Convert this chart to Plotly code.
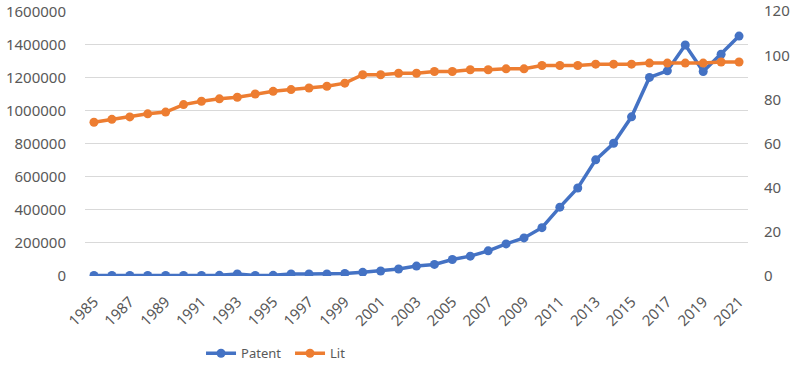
import plotly.graph_objects as go

years = list(range(1985, 2022))
patent = [3000, 3000, 3000, 3000, 3000, 3000, 3000, 4000, 12000, 3000,
          4000, 12000, 12000, 12000, 15000, 22000, 30000, 42000, 60000, 70000,
          100000, 120000, 152000, 194000, 230000, 292000, 416000, 532000, 702000, 802000,
          962000, 1200000, 1240000, 1396000, 1236000, 1340000, 1450000]
lit = [69.7, 71.0, 72.1, 73.5, 74.3, 77.7, 79.2, 80.3, 81.0, 82.5,
       83.7, 84.5, 85.2, 86.0, 87.4, 91.2, 91.2, 91.9, 91.9, 92.7,
       92.7, 93.5, 93.5, 93.9, 93.9, 95.4, 95.4, 95.4, 96.0, 96.0,
       96.0, 96.5, 96.5, 96.5, 96.5, 97.0, 97.0]
left_ticks = [0, 200000, 400000, 600000, 800000, 1000000, 1200000, 1400000, 1600000]
right_ticks = [0, 20, 40, 60, 80, 100, 120]
x_ticks = list(range(1985, 2022, 2))

BLUE = "#4472C4"
ORANGE = "#ED7D31"
GRAY = "#595959"
FONT = "Noto Sans"

fig = go.Figure()
fig.add_trace(go.Scatter(x=years, y=patent, name="Patent", mode="lines+markers",
                         line=dict(color=BLUE, width=3.5),
                         marker=dict(color=BLUE, size=9)))
fig.add_trace(go.Scatter(x=years, y=lit, name="Lit", mode="lines+markers", yaxis="y2",
                         line=dict(color=ORANGE, width=3.5),
                         marker=dict(color=ORANGE, size=9)))

fig.update_layout(
    width=796, height=370,
    margin=dict(l=85, r=48, t=11, b=94, autoexpand=False),
    paper_bgcolor="white", plot_bgcolor="white",
    font=dict(family=FONT, color=GRAY, size=14),
    showlegend=True,
    legend=dict(orientation="h", x=0.175, xanchor="left", y=-0.235, yanchor="top",
                font=dict(size=13, color=GRAY), itemwidth=30,
                entrywidth=44, entrywidthmode="pixels"),
    xaxis=dict(range=[1984.5, 2021.5], tickmode="array", tickvals=x_ticks,
               ticktext=[str(t) for t in x_ticks], tickangle=-45,
               showgrid=False, zeroline=False, showline=False, automargin=False,
               ticks="outside", ticklen=10, tickcolor="rgba(0,0,0,0)",
               ticklabeloverflow="allow",
               tickfont=dict(size=15, color=GRAY)),
    yaxis=dict(range=[0, 1601500], tickmode="array", tickvals=left_ticks,
               ticktext=[str(t) for t in left_ticks], automargin=False,
               showgrid=True, gridcolor="#D9D9D9", gridwidth=1,
               zeroline=False, showline=False,
               ticks="outside", ticklen=15, tickcolor="rgba(0,0,0,0)",
               ticklabeloverflow="allow",
               tickfont=dict(size=15, color=GRAY)),
    yaxis2=dict(range=[0, 120.11], tickmode="array", tickvals=right_ticks,
                ticktext=[str(t) for t in right_ticks], automargin=False,
                overlaying="y", side="right", showgrid=False, zeroline=False,
                showline=False, ticks="outside", ticklen=12, tickcolor="rgba(0,0,0,0)",
                ticklabeloverflow="allow",
                tickfont=dict(size=15, color=GRAY)),
)

fig.write_html("out.html", config={"displayModeBar": False},
               post_script="document.body.style.margin='0';")
